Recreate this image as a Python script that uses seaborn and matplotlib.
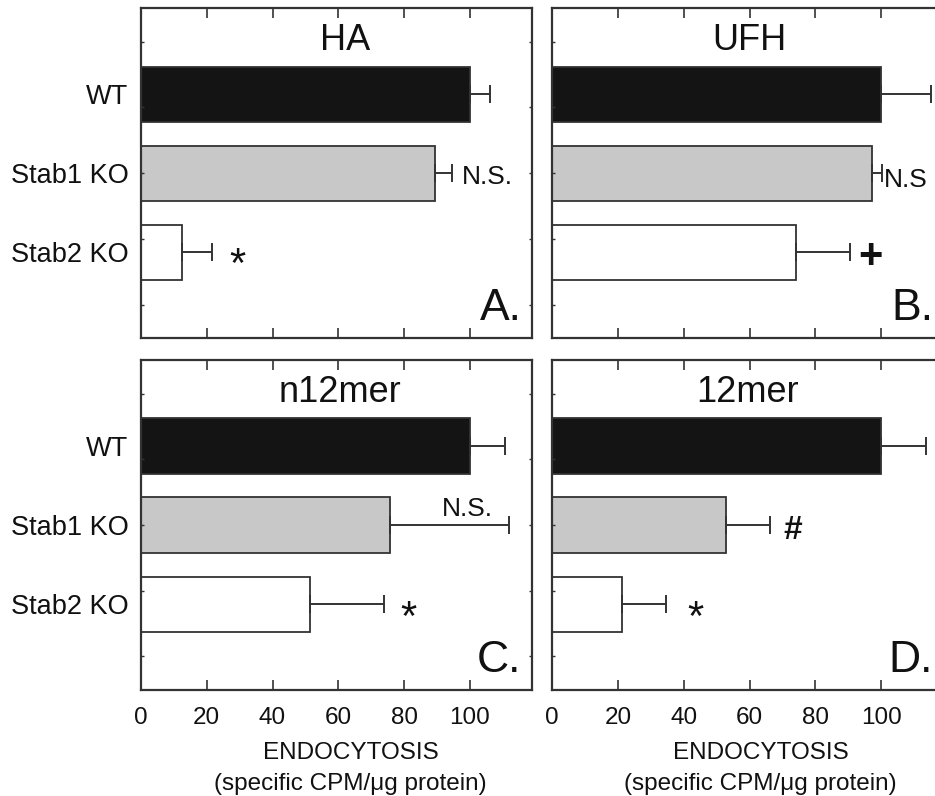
import matplotlib
matplotlib.use('Agg')
import matplotlib.pyplot as plt
import seaborn as sns
import pandas as pd
import numpy as np

plt.rcParams['font.family'] = ['Liberation Sans', 'DejaVu Sans']

# ---------------- data ----------------
groups = ['WT', 'Stab1 KO', 'Stab2 KO']
titles = ['HA', 'UFH', 'n12mer', '12mer']
letters = ['A.', 'B.', 'C.', 'D.']

ha_vals = [100, 89.4, 12.4]
ha_err = [6.0, 5.3, 9.3]
ufh_vals = [100, 97.3, 74.2]
ufh_err = [15.2, 3.0, 16.2]
n12_vals = [100, 75.6, 51.3]
n12_err = [10.8, 36.3, 22.6]
m12_vals = [100, 52.7, 21.3]
m12_err = [13.7, 13.5, 13.4]

ha_marks = ['', 'N.S.', '*']
ufh_marks = ['', 'N.S', '+']
n12_marks = ['', 'N.S.', '*']
m12_marks = ['', '#', '*']

xticks = [0, 20, 40, 60, 80, 100]
xlabel_lines = ['ENDOCYTOSIS', '(specific CPM/\u03bcg protein)']

# ---------------- style ----------------
bar_colors = ['#141414', '#c8c8c8', '#ffffff']
edge = '#333333'
W, H = 935, 796
fig = plt.figure(figsize=(W / 100, H / 100), dpi=100)

def frac(x0, y_bottom_px, w, h):
    return [x0 / W, (H - y_bottom_px) / H, w / W, h / H]

positions = [frac(141, 338.3, 391.3, 330), frac(552.3, 338.3, 391.3, 330),
             frac(141, 690, 391.3, 330), frac(552.3, 690, 391.3, 330)]
vals_all = [ha_vals, ufh_vals, n12_vals, m12_vals]
errs_all = [ha_err, ufh_err, n12_err, m12_err]
marks_all = [ha_marks, ufh_marks, n12_marks, m12_marks]
title_x = [0.522, 0.503, 0.508, 0.498]

# annotation placement (x data, y data, ha, fontsize, weight)
mark_pos = [
    [None, (97.6, 1.05, 'left', 19, 'normal'), (29.2, 2.17, 'center', 30, 'normal')],
    [None, (100.8, 1.08, 'left', 19, 'normal'), (96.9, 2.06, 'center', 30, 'bold')],
    [None, (99.4, 0.79, 'center', 19, 'normal'), (81.2, 2.19, 'center', 30, 'normal')],
    [None, (73.0, 1.07, 'center', 24, 'bold'), (43.5, 2.19, 'center', 30, 'normal')],
]
minor_y = [-0.665, 0.158, 0.994, 1.83, 2.66]

for i in range(4):
    ax = fig.add_axes(positions[i])
    df = pd.DataFrame({'group': groups, 'value': vals_all[i]})
    sns.barplot(data=df, x='value', y='group', hue='group', order=groups,
                hue_order=groups, palette=bar_colors, legend=False, orient='h',
                width=0.70, edgecolor=edge, linewidth=1.3, ax=ax)
    ypos = np.arange(len(groups))
    ax.errorbar(vals_all[i], ypos, xerr=[np.zeros(3), errs_all[i]], fmt='none',
                ecolor=edge, elinewidth=1.4, capsize=6.8, capthick=1.4, zorder=5)
    ax.set_xlim(0, 119)
    ax.set_ylim(3.086, -1.09)
    ax.set_xlabel('')
    ax.set_ylabel('')
    for s in ax.spines.values():
        s.set_color(edge)
        s.set_linewidth(1.6)
    ax.set_xticks(xticks)
    ax.tick_params(axis='x', which='major', direction='in', length=7.5, width=1.2,
                   color=edge, top=True, bottom=True, labelsize=17.5, pad=12,
                   labelbottom=(i >= 2), labelcolor='#111111')
    ax.set_yticks(ypos)
    ax.set_yticks(minor_y, minor=True)
    ax.tick_params(axis='y', which='major', length=0, pad=9, labelsize=19.5,
                   labelleft=(i % 2 == 0), labelcolor='#111111')
    ax.tick_params(axis='y', which='minor', direction='in', length=2.5, width=1.0,
                   color=edge, left=True, right=True)
    if i % 2 == 0:
        ax.set_yticklabels(groups)
    else:
        ax.set_yticklabels([])
    ax.text(title_x[i], 0.903, titles[i], transform=ax.transAxes, ha='center',
            va='center', fontsize=26, color='#111111')
    ax.text(0.973, 0.0545, letters[i], transform=ax.transAxes, ha='right',
            va='baseline', fontsize=32, color='#111111')
    for j in range(3):
        mp = mark_pos[i][j]
        if mp is None or not marks_all[i][j]:
            continue
        ax.text(mp[0], mp[1], marks_all[i][j], ha=mp[2], va='center',
                fontsize=mp[3], fontweight=mp[4], color='#111111')
    if i >= 2:
        ax.text(0.536 if i == 2 else 0.532, -0.192, xlabel_lines[0],
                transform=ax.transAxes, ha='center', va='center', fontsize=17.5,
                color='#111111')
        ax.text(0.536 if i == 2 else 0.532, -0.285, xlabel_lines[1],
                transform=ax.transAxes, ha='center', va='center', fontsize=17.5,
                color='#111111')

fig.savefig('out.png', dpi=100)
